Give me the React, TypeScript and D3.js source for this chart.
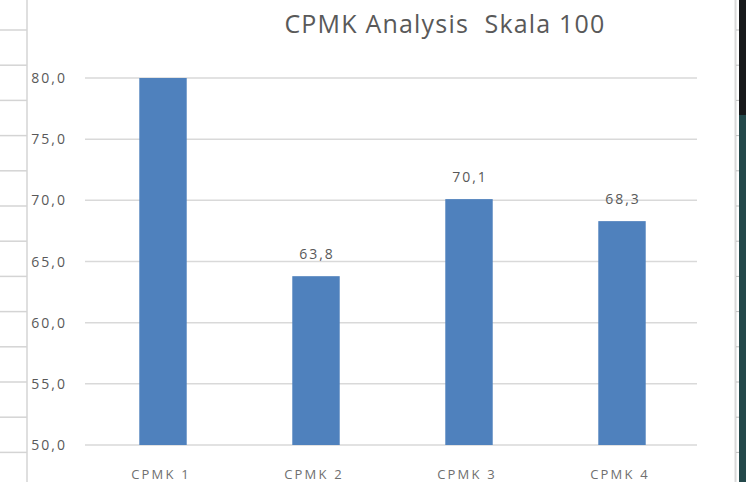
import * as d3 from "d3";

const categories = ["CPMK 1", "CPMK 2", "CPMK 3", "CPMK 4"];
const values = [80.0, 63.8, 70.1, 68.3];
const yTicks = [50, 55, 60, 65, 70, 75, 80];
const title = "CPMK Analysis  Skala 100";

const W = 746;
const H = 482;
const plotLeft = 85;
const plotRight = 697;
const plotTop = 78;
const plotBottom = 445;

const fmt = d3.formatLocale({ decimal: ",", thousands: ".", grouping: [3], currency: ["", ""] }).format(".1f");

const App: React.FC = () => {
    const x = d3.scaleBand<string>(categories, [plotLeft + 1.5, plotRight + 1.5]).paddingInner(0.69).paddingOuter(0.345);
    const y = d3.scaleLinear([50, 80], [plotBottom, plotTop]);
    const rows = d3.range(30, H, 35.2);
    const textColor = "#595959";
    const font = "'Open Sans', sans-serif";

    return (
        <svg width={W} height={H} style={{ position: "absolute", left: 0, top: 0, background: "#fff" }}>
            {/* spreadsheet behind the chart */}
            <g stroke="#d4d4d4" strokeWidth={1.5}>
                {rows.map((r, i) => (<line key={i} x1={0} x2={27} y1={r} y2={r} />))}
                <line x1={27} x2={27} y1={0} y2={H} />
            </g>
            <rect x={739} y={0} width={7} height={115} fill="#17191b" />
            <rect x={739} y={115} width={7} height={H - 115} fill="#23484a" />
            <line x1={735.5} x2={735.5} y1={0} y2={H} stroke="#d9d9d9" strokeWidth={2} />
            <g stroke="#bfbfbf">
                {rows.map((r, i) => (<line key={i} x1={736} x2={739} y1={r} y2={r} />))}
            </g>

            <text x={445} y={33} textAnchor="middle" fill={textColor} fontFamily={font} fontSize={25}
                letterSpacing={1.2} style={{ whiteSpace: "pre" }}>{title}</text>

            <g stroke="#d9d9d9" strokeWidth={1.5}>
                {yTicks.map(t => (<line key={t} x1={plotLeft} x2={plotRight} y1={y(t)} y2={y(t)} />))}
            </g>
            <g fill={textColor} fontFamily={font} fontSize={14} letterSpacing={2}>
                {yTicks.map(t => (<text key={t} x={67} y={y(t) + 5} textAnchor="end">{fmt(t)}</text>))}
            </g>

            <g fill="#4f81bd">
                {values.map((v, i) => (
                    <rect key={i} x={x(categories[i])} y={y(Math.min(v, 80))} width={x.bandwidth()} height={plotBottom - y(Math.min(v, 80))} />
                ))}
            </g>
            <g fill={textColor} fontFamily={font} fontSize={14} letterSpacing={2} textAnchor="middle">
                {values.map((v, i) => v < 80 ? (
                    <text key={i} x={(x(categories[i]) ?? 0) + x.bandwidth() / 2 + 1} y={y(v) - 17}>{fmt(v)}</text>
                ) : null)}
            </g>
            <g fill="#6f6f6f" fontFamily={font} fontSize={13} letterSpacing={2.2} textAnchor="middle">
                {categories.map(c => (<text key={c} x={(x(c) ?? 0) + x.bandwidth() / 2 - 2} y={479}>{c}</text>))}
            </g>
        </svg>
    );
};

export default App;
